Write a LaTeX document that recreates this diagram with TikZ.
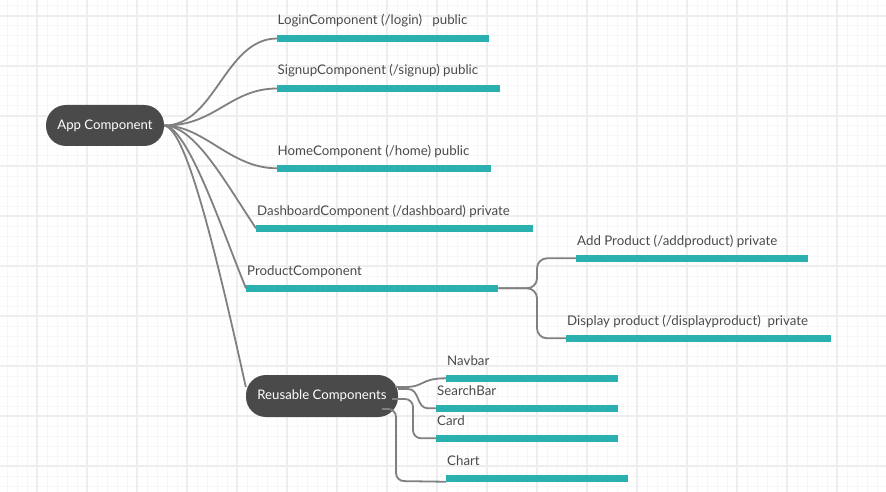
\documentclass[tikz,border=0pt]{standalone}
\usepackage{fontspec}
\setmainfont{Lato}
\usetikzlibrary{calc}
\definecolor{gridmajor}{HTML}{EEEEEE}
\definecolor{gridminor}{HTML}{F7F7F7}
\definecolor{teal}{HTML}{2AB0AE}
\definecolor{nodefill}{HTML}{4A4A4A}
\definecolor{conncol}{HTML}{808080}
\definecolor{txtcol}{HTML}{4A4A4A}
\tikzset{
  bar/.style={fill=teal, draw=none, inner sep=0pt, minimum height=6.5pt, anchor=west},
  lbl/.style={anchor=base west, inner sep=0pt, text=txtcol, font=\fontsize{13.3}{15}\selectfont},
  hub/.style={fill=nodefill, draw=none, rounded corners=20pt, text=white, inner sep=0pt, font=\fontsize{13.2}{15}\selectfont},
  conn/.style={draw=conncol, line width=1.8pt},
}
\begin{document}
\begin{tikzpicture}[x=1pt,y=-1pt]
\useasboundingbox (0,0) rectangle (886,492);
\fill[white] (0,0) rectangle (886,492);
% grid
\foreach \gx in {7,17,...,887} \draw[gridminor, line width=1pt] (\gx,0) -- (\gx,492);
\foreach \gy in {6,16,...,496} \draw[gridminor, line width=1pt] (0,\gy) -- (886,\gy);
\foreach \gx in {37,87,...,887} \draw[gridmajor, line width=2pt] (\gx,0) -- (\gx,492);
\foreach \gy in {16,66,...,466} \draw[gridmajor, line width=2pt] (0,\gy) -- (886,\gy);

% hubs
\node[hub, minimum width=118pt, minimum height=41pt] (app) at (105,125.5) {App Component};
\node[hub, minimum width=152pt, minimum height=42pt] (reuse) at (322,396) {Reusable Components};

% bars
\node[bar, minimum width=212pt] (blogin) at (277,38.5) {};
\node[bar, minimum width=223pt] (bsignup) at (277,88.5) {};
\node[bar, minimum width=214pt] (bhome) at (277,168.3) {};
\node[bar, minimum width=277pt] (bdash) at (256,228.3) {};
\node[bar, minimum width=252pt] (bprod) at (246,288.3) {};
\node[bar, minimum width=232pt] (badd) at (576,258.3) {};
\node[bar, minimum width=265pt] (bdisp) at (566,338.3) {};
\node[bar, minimum width=172pt] (bnav) at (446,378.3) {};
\node[bar, minimum width=182pt] (bsearch) at (436,408.3) {};
\node[bar, minimum width=182pt] (bcard) at (436,438.3) {};
\node[bar, minimum width=182pt] (bchart) at (446,478.3) {};

% labels
\node[lbl] (tlogin) at (277.5,25) {LoginComponent (/login)\ \ \ public};
\node[lbl] (tsignup) at (277.5,75) {SignupComponent (/signup) public};
\node[lbl] (thome) at (277.5,155) {HomeComponent (/home) public};
\node[lbl] (tdash) at (257,215) {DashboardComponent (/dashboard) private};
\node[lbl] (tprod) at (247,275) {ProductComponent};
\node[lbl] (tadd) at (577,245) {Add Product (/addproduct) private};
\node[lbl] (tdisp) at (567,325) {Display product (/displayproduct)\ \ private};
\node[lbl] (tnav) at (447,365) {Navbar};
\node[lbl] (tsearch) at (437,395) {SearchBar};
\node[lbl] (tcard) at (437,425) {Card};
\node[lbl] (tchart) at (447,465) {Chart};

% connectors from App Component
\draw[conn] (app.east) .. controls (215,126) and (225,38.5) .. (blogin.west);
\draw[conn] (app.east) .. controls (215,126) and (230,88.5) .. (bsignup.west);
\draw[conn] (app.east) .. controls (205,126) and (230,168.3) .. (bhome.west);
\draw[conn] (app.east) .. controls (195,126) and (225,182) .. (bdash.west);
\draw[conn] (app.east) .. controls (188,127) and (222,230) .. (bprod.west);
\draw[conn] (app.east) .. controls (183,128) and (208,215) .. ($(reuse.west)+(0,-9)$);

% product sub branches
\draw[conn, rounded corners=10pt] (bprod.east) -- (537,288.3) |- (badd.west);
\draw[conn, rounded corners=10pt] (bprod.east) -- (537,288.3) |- (bdisp.west);

% reusable sub branches
\draw[conn] ($(reuse.east)+(-3,-9)$) -- (405,387) .. controls (425,387) and (420,378.3) .. (bnav.west);
\draw[conn] ($(reuse.east)+(0,-7)$) -- (408,389) .. controls (420,389) and (416,408.3) .. (428,408.3) -- (bsearch.west);
\draw[conn, rounded corners=8pt] ($(reuse.east)+(-6,3)$) -- (413,399) -- (413,438.3) -- (bcard.west);
\draw[conn, rounded corners=8pt] ($(reuse.east)+(-16,13)$) -- (396,409) -- (396,481) -- (bchart.south west);
\end{tikzpicture}
\end{document}
